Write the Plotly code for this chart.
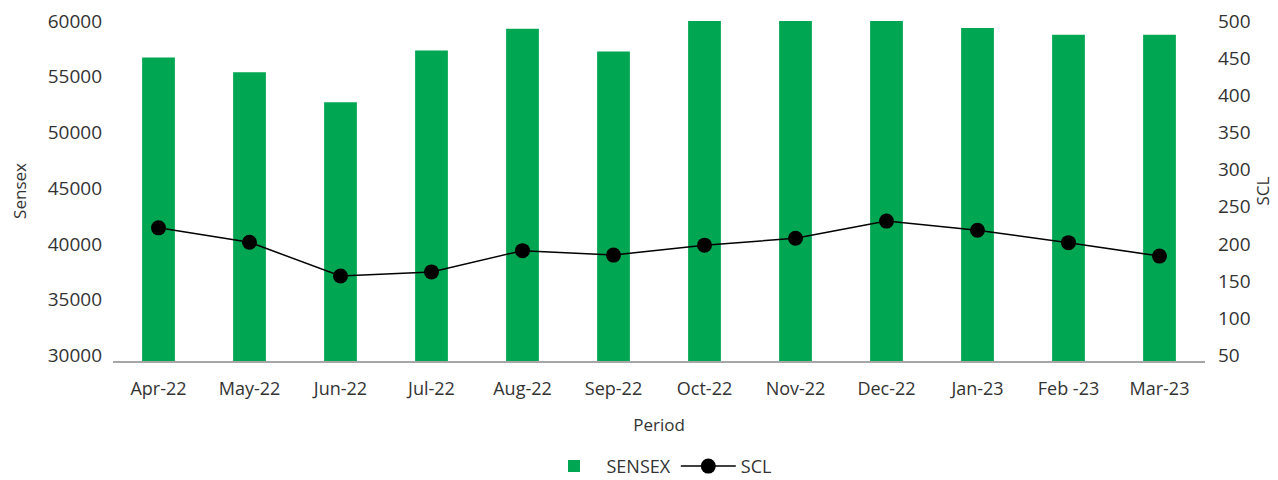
import plotly.graph_objects as go

periods = ["Apr-22", "May-22", "Jun-22", "Jul-22", "Aug-22", "Sep-22",
           "Oct-22", "Nov-22", "Dec-22", "Jan-23", "Feb -23", "Mar-23"]
sensex = [56730, 55390, 52720, 57350, 59310, 57260,
          60750, 63100, 60840, 59370, 58760, 58760]
scl = [221.6, 202.3, 156.7, 162.3, 190.9, 184.9,
       198.3, 207.6, 230.7, 218.3, 201.7, 183.6]
sensex_ticks = [30000, 35000, 40000, 45000, 50000, 55000, 60000]
scl_ticks = [50, 100, 150, 200, 250, 300, 350, 400, 450, 500]

FONT = "Open Sans"
TXT = "#333333"

fig = go.Figure()
fig.add_trace(go.Bar(
    x=periods, y=sensex, name="SENSEX",
    marker=dict(color="#00A651", line=dict(width=0)),
    yaxis="y",
))
fig.add_trace(go.Scatter(
    x=periods, y=scl, name="SCL", mode="lines+markers",
    line=dict(color="#000000", width=1.5),
    marker=dict(color="#000000", size=15),
    yaxis="y2",
))

# page body has an 8px margin, so the figure is 8px smaller and shifted
fig.update_layout(
    width=1270, height=472,
    margin=dict(l=105, r=73, t=13, b=119, autoexpand=False),
    paper_bgcolor="white", plot_bgcolor="white",
    font=dict(family=FONT, size=17, color=TXT),
    bargap=0.64,
    showlegend=True,
    legend=dict(orientation="h", x=0.5, xanchor="center", y=-0.31, yanchor="middle",
                font=dict(size=18, color=TXT), itemwidth=55, tracegroupgap=0),
    xaxis=dict(
        automargin=False, range=[-0.5, len(periods) - 0.5],
        showgrid=False, showline=True, linecolor="#A6A6A6", linewidth=1.5,
        ticks="", ticklabelstandoff=11, tickfont=dict(size=18, color=TXT),
        title=dict(text="Period", standoff=20, font=dict(size=17, color=TXT)),
    ),
    yaxis=dict(
        automargin=False,
        range=[29490, 60000], tickvals=sensex_ticks,
        ticktext=[str(v) for v in sensex_ticks], ticklabeloverflow="allow",
        showgrid=False, zeroline=False, showline=False, ticks="",
        ticklabelstandoff=10, tickfont=dict(size=19, color=TXT),
        title=dict(text="Sensex", standoff=18, font=dict(size=17, color=TXT)),
    ),
    yaxis2=dict(
        automargin=False,
        range=[42.4, 500], tickvals=scl_ticks,
        ticktext=[str(v) for v in scl_ticks], ticklabeloverflow="allow",
        overlaying="y", side="right", showgrid=False, zeroline=False, showline=False,
        ticks="", ticklabelstandoff=12, tickfont=dict(size=19, color=TXT),
        title=dict(text="SCL", standoff=6, font=dict(size=17, color=TXT)),
    ),
)

fig.write_html("out.html")
